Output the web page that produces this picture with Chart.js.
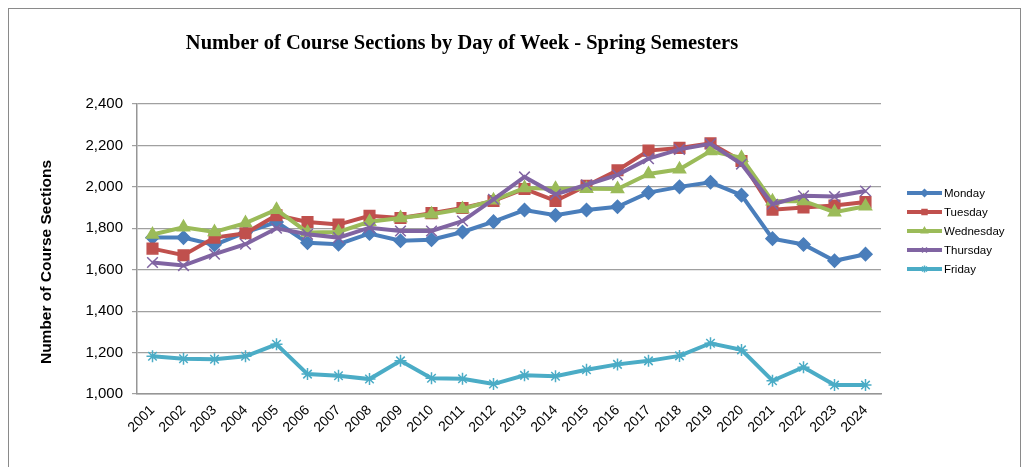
<!DOCTYPE html>
<html lang="en">
<head>
    <meta charset="UTF-8">
    <title>Number of Course Sections by Day of Week - Spring Semesters</title>
    <script src="https://cdn.jsdelivr.net/npm/chart.js"></script>
    <style>
        body { margin: 0; overflow: hidden; background: #fff; }
        #wrap { position: relative; width: 1026px; height: 467px; }
        #frame { position: absolute; left: 8px; top: 8px; width: 1011px; height: 520px; border: 1px solid #8a8a8a; }
    </style>
</head>
<body>
<div id="wrap">
    <div id="frame"></div>
    <canvas id="sectionsChart"></canvas>
</div>

<script>
    // years on the x axis
    const years = ["2001","2002","2003","2004","2005","2006","2007","2008","2009","2010","2011","2012",
                   "2013","2014","2015","2016","2017","2018","2019","2020","2021","2022","2023","2024"];

    // sections per weekday
    const monday    = [1755,1755,1720,1780,1830,1730,1723,1775,1740,1745,1782,1832,1888,1863,1888,1904,1972,2000,2022,1960,1750,1722,1643,1675];
    const tuesday   = [1702,1670,1755,1776,1863,1830,1818,1860,1850,1873,1898,1932,1990,1932,2005,2080,2175,2188,2210,2125,1890,1900,1910,1927];
    const wednesday = [1770,1805,1782,1825,1890,1780,1782,1832,1850,1868,1893,1935,1995,1991,1991,1990,2062,2085,2173,2140,1930,1932,1878,1906];
    const thursday  = [1635,1620,1675,1723,1800,1771,1755,1803,1787,1787,1835,1940,2048,1964,2010,2058,2136,2181,2208,2110,1916,1957,1953,1980];
    const friday    = [1182,1170,1168,1182,1240,1096,1088,1072,1160,1076,1074,1048,1090,1086,1117,1143,1160,1184,1245,1213,1064,1129,1043,1043];

    const dayNames = ["Monday","Tuesday","Wednesday","Thursday","Friday"];

    function series(label, data, color, style, radius, order) {
        return {
            label: label, data: data,
            borderColor: color, backgroundColor: color,
            pointBackgroundColor: color, pointBorderColor: color,
            borderWidth: 4, pointStyle: style, pointRadius: radius,
            pointBorderWidth: 1.5, tension: 0, fill: false, order: order
        };
    }

    // title, rotated axis title and legend drawn by hand
    const decor = {
        id: "decor",
        afterDraw(chart) {
            const ctx = chart.ctx;
            ctx.save();
            ctx.fillStyle = "#000";
            ctx.textAlign = "center";
            ctx.textBaseline = "middle";
            ctx.font = "bold 20.5px 'Liberation Serif', 'Times New Roman', serif";
            ctx.fillText("Number of Course Sections by Day of Week - Spring Semesters", 462, 44);

            ctx.save();
            ctx.translate(47, 262);
            ctx.rotate(-Math.PI / 2);
            ctx.font = "bold 15.5px 'Liberation Sans', Arial, sans-serif";
            ctx.fillText("Number of Course Sections", 0, 0);
            ctx.restore();

            // legend
            ctx.textAlign = "left";
            ctx.font = "11.5px 'Liberation Sans', Arial, sans-serif";
            chart.data.datasets.forEach((ds, i) => {
                const y = 193 + i * 19;
                ctx.strokeStyle = ds.borderColor;
                ctx.lineWidth = 4;
                ctx.beginPath();
                ctx.moveTo(907, y);
                ctx.lineTo(942, y);
                ctx.stroke();
                ctx.fillStyle = ds.borderColor;
                ctx.lineWidth = 1.5;
                Chart.helpers.drawPoint(ctx, { pointStyle: ds.pointStyle, radius: 3.5, rotation: 0, borderWidth: 1.5 }, 924.5, y);
                ctx.fillStyle = "#000";
                ctx.fillText(ds.label, 944, y + 1);
            });
            ctx.restore();
        }
    };

    new Chart(document.getElementById("sectionsChart"), {
        type: "line",
        data: {
            labels: years,
            datasets: [
                series(dayNames[0], monday,    "#4a7ebb", "rectRot",  6.5, 5),
                series(dayNames[1], tuesday,   "#c0504d", "rect",     7.5, 4),
                series(dayNames[2], wednesday, "#9bbb59", "triangle", 7,   3),
                series(dayNames[3], thursday,  "#8064a2", "crossRot", 7.5, 2),
                series(dayNames[4], friday,    "#4bacc6", "star",     6,   1)
            ]
        },
        options: {
            responsive: true,
            maintainAspectRatio: false,
            animation: false,
            layout: { padding: { top: 104, right: 145, bottom: 0, left: 0 } },
            plugins: {
                legend: { display: false },
                title: { display: false },
                tooltip: { enabled: false }
            },
            scales: {
                x: {
                    offset: true,
                    grid: { display: false, drawTicks: false },
                    border: { display: true, color: "#969696", width: 1.5 },
                    ticks: {
                        color: "#000", minRotation: 45, maxRotation: 45, padding: 8,
                        font: { family: "'Liberation Sans', Arial, sans-serif", size: 14 }
                    },
                    afterFit(scale) { scale.height = 73; }
                },
                y: {
                    min: 1000, max: 2400,
                    grid: { color: "#a0a0a0", lineWidth: 1.2, tickLength: 5 },
                    border: { display: true, color: "#969696", width: 1.5 },
                    ticks: {
                        stepSize: 200, color: "#000", padding: 9,
                        font: { family: "'Liberation Sans', Arial, sans-serif", size: 15 }
                    },
                    afterFit(scale) { scale.width = 137; }
                }
            }
        },
        plugins: [decor]
    });
</script>
</body>
</html>
